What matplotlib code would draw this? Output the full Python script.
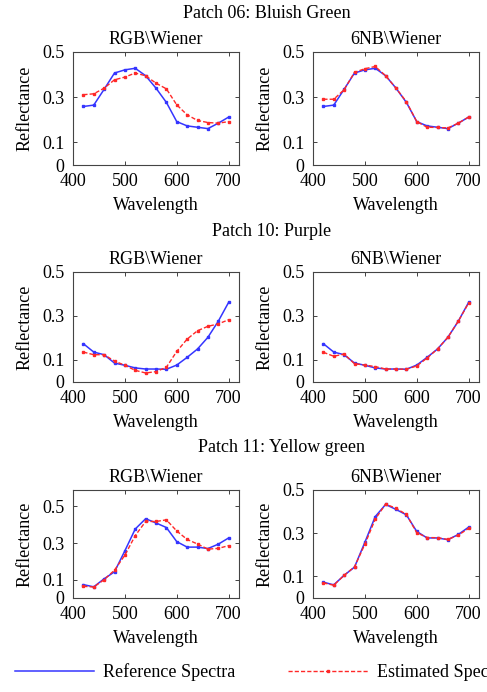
import numpy as np
import matplotlib.pyplot as plt
from matplotlib.lines import Line2D

plt.rcParams['font.family'] = ['Liberation Serif', 'DejaVu Serif']
plt.rcParams['font.size'] = 13

# wavelengths (nm)
wavelength = [420, 440, 460, 480, 500, 520, 540, 560, 580, 600, 620, 640, 660, 680, 700]

# Patch 06: Bluish Green
p06_ref = [0.259, 0.265, 0.335, 0.407, 0.421, 0.428, 0.395, 0.340, 0.277, 0.192, 0.173, 0.167, 0.161, 0.185, 0.212]
p06_rgb = [0.311, 0.315, 0.340, 0.377, 0.389, 0.407, 0.395, 0.362, 0.337, 0.266, 0.222, 0.197, 0.188, 0.185, 0.192]
p06_6nb = [0.291, 0.291, 0.333, 0.410, 0.426, 0.436, 0.395, 0.340, 0.280, 0.192, 0.167, 0.166, 0.164, 0.185, 0.212]

# Patch 10: Purple
p10_ref = [0.174, 0.136, 0.124, 0.086, 0.076, 0.064, 0.059, 0.059, 0.058, 0.077, 0.112, 0.150, 0.203, 0.276, 0.362]
p10_rgb = [0.136, 0.124, 0.124, 0.095, 0.076, 0.053, 0.041, 0.047, 0.067, 0.139, 0.195, 0.233, 0.253, 0.264, 0.283]
p10_6nb = [0.135, 0.117, 0.127, 0.083, 0.077, 0.070, 0.059, 0.059, 0.058, 0.073, 0.109, 0.150, 0.203, 0.276, 0.359]

# Patch 11: Yellow green
p11_ref = [0.073, 0.061, 0.105, 0.143, 0.258, 0.377, 0.433, 0.410, 0.385, 0.308, 0.278, 0.278, 0.270, 0.294, 0.328]
p11_rgb = [0.064, 0.060, 0.100, 0.152, 0.234, 0.341, 0.418, 0.418, 0.427, 0.366, 0.320, 0.295, 0.267, 0.271, 0.286]
p11_6nb = [0.070, 0.059, 0.105, 0.144, 0.249, 0.365, 0.435, 0.415, 0.387, 0.302, 0.280, 0.279, 0.271, 0.291, 0.322]

patch_titles = ['Patch 06: Bluish Green', 'Patch 10: Purple', 'Patch 11: Yellow green']
method_titles = ['RGB\\Wiener', '6NB\\Wiener']
refs = [p06_ref, p10_ref, p11_ref]
ests = [[p06_rgb, p06_6nb], [p10_rgb, p10_6nb], [p11_rgb, p11_6nb]]
ytops = [[0.5, 0.5], [0.5, 0.5], [0.59, 0.5]]

blue = '#3535ff'
red = '#ff2828'

W, H = 487, 692
fig = plt.figure(figsize=(W / 100, H / 100), dpi=100)

# axes boxes in pixels: (top, bottom) per row, left per column
rows = [(52, 165), (272, 382), (490, 598)]
cols = [73, 313]
box_w = 166
title_pos = [(267, 14), (272, 232), (281, 448)]

for r in range(3):
    top, bot = rows[r]
    fig.text(title_pos[r][0] / W, 1 - title_pos[r][1] / H, patch_titles[r],
             ha='center', va='center')
    for c in range(2):
        ax = fig.add_axes([cols[c] / W, 1 - bot / H, box_w / W, (bot - top) / H])
        ax.plot(wavelength, refs[r], color=blue, lw=1.1, marker='s', ms=1.8)
        ax.plot(wavelength, ests[r][c], color=red, lw=1.0, ls='--',
                dashes=(3, 1.5), marker='s', ms=1.9)
        ax.set_xlim(400, 720)
        ax.set_ylim(0, ytops[r][c])
        ax.set_xticks([400, 500, 600, 700])
        ax.set_yticks([0, 0.1, 0.3, 0.5])
        ax.set_yticklabels(['0', '0.1', '0.3', '0.5'])
        ax.tick_params(direction='in', top=True, right=True, length=3,
                       width=0.6, pad=6, colors='#222222', labelcolor='black')
        for s in ax.spines.values():
            s.set_color('#444444')
            s.set_linewidth(0.8)
        ax.set_title(method_titles[c], fontsize=13, pad=6)
        ax.set_xlabel('Wavelength', labelpad=5)
        ax.set_ylabel('Reflectance', labelpad=6)

handles = [Line2D([], [], color=blue, lw=1.1),
           Line2D([], [], color=red, lw=1.0, ls='--', dashes=(3, 1.5),
                  marker='s', ms=1.9)]
fig.legend(handles, ['Reference Spectra', 'Estimated Spectra'],
           loc='center left', bbox_to_anchor=(15 / W, 1 - 672 / H),
           ncol=2, frameon=False, borderaxespad=0, borderpad=0,
           handlelength=4.4, handletextpad=0.5, columnspacing=2.9,
           numpoints=1)

fig.savefig('out.png', dpi=100)
